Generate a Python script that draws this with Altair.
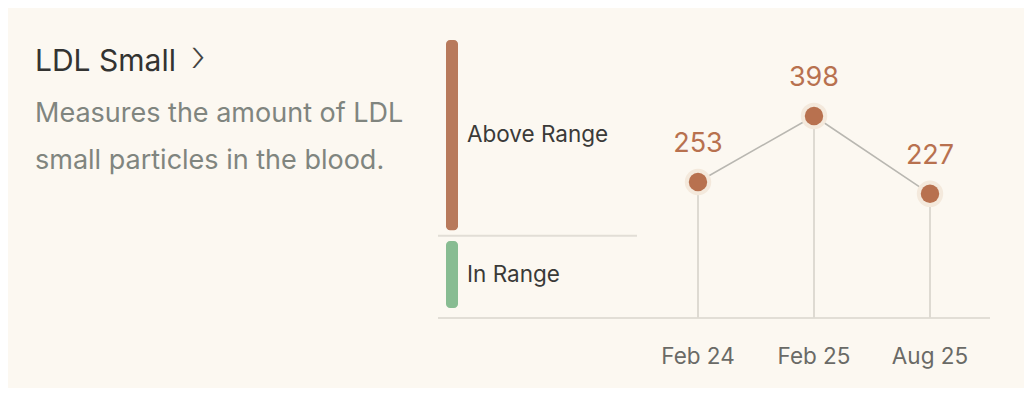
import altair as alt
import pandas as pd

# ---- data ----
dates = ["Feb 24", "Feb 25", "Aug 25"]
values = [253, 398, 227]

zones = ["Above Range", "In Range"]
zone_lo = [29, 0]
zone_hi = [100, 25]
zone_colors = ["#B87A5C", "#88BC92"]
zone_split = [27]

title_text = ["LDL Small"]
desc_lines = ["Measures the amount of LDL", "small particles in the blood."]

BG = "#FCF8F1"
BROWN = "#B8714F"
FONT = "Inter"

pts = pd.DataFrame({"date": dates, "value": values})
zdf = pd.DataFrame({"zone": zones, "lo": zone_lo, "hi": zone_hi, "color": zone_colors})
sdf = pd.DataFrame({"split": zone_split})

xs = alt.Scale(type="point", domain=dates, range=[690, 922], padding=0)
ys = alt.Scale(domain=[0, 450], range=[289.2, 84.3], zero=False, nice=False)
zs = alt.Scale(domain=[0, 100], range=[300, 32], zero=False, nice=False)

X = alt.X("date:N", scale=xs, axis=None)
Y = alt.Y("value:Q", scale=ys, axis=None)

base = alt.Chart(pts)

stems = base.mark_rule(color="#DEDAD2", strokeWidth=2).encode(
    x=X, y=Y, y2=alt.value(310)
)
baseline = alt.Chart(pts).mark_rule(color="#E2DED6", strokeWidth=2).encode(
    x=alt.value(430), x2=alt.value(982), y=alt.value(310)
)
line = base.mark_line(color="#B9B7B1", strokeWidth=1.6).encode(x=X, y=Y)
halo = base.mark_point(filled=True, shape="circle", size=700, color="#F4E9DC", opacity=1).encode(x=X, y=Y)
dots = base.mark_point(filled=True, shape="circle", size=340, color=BROWN, opacity=1).encode(x=X, y=Y)
vlabels = base.mark_text(font=FONT, fontSize=27, color=BROWN, dy=-38, baseline="middle").encode(
    x=X, y=Y, text="value:Q"
)
xlabels = base.mark_text(font=FONT, fontSize=22.5, color="#6A6A66", baseline="middle").encode(
    x=X, y=alt.value(349), text="date:N"
)

zbars = alt.Chart(zdf).mark_bar(cornerRadius=4).encode(
    x=alt.value(438), x2=alt.value(450),
    y=alt.Y("lo:Q", scale=zs, axis=None), y2="hi:Q",
    color=alt.Color("color:N", scale=None, legend=None),
)
ztext = alt.Chart(zdf).transform_calculate(mid="(datum.lo + datum.hi) / 2").mark_text(
    font=FONT, fontSize=22.5, color="#3A3A38", align="left", baseline="middle"
).encode(x=alt.value(459), y=alt.Y("mid:Q", scale=zs, axis=None), text="zone:N")
zsplit = alt.Chart(sdf).mark_rule(color="#E2DED6", strokeWidth=2).encode(
    x=alt.value(430), x2=alt.value(629), y=alt.Y("split:Q", scale=zs, axis=None)
)

title = alt.Chart(pd.DataFrame({"t": title_text})).mark_text(
    font=FONT, fontSize=30, color="#333331", align="left", baseline="alphabetic"
).encode(x=alt.value(27), y=alt.value(63), text="t:N")
chev = alt.Chart(pd.DataFrame({"t": ["›"]})).mark_text(
    font=FONT, fontSize=44, fontWeight=200, color="#444442", align="center", baseline="middle"
).encode(x=alt.value(190), y=alt.value(50), text="t:N")
desc = alt.Chart(pd.DataFrame({"t": [desc_lines]})).mark_text(
    font=FONT, fontSize=27, color="#80857F", align="left", baseline="alphabetic", lineHeight=47
).encode(x=alt.value(27), y=alt.value(114), text="t")

chart = alt.layer(
    baseline, zsplit, zbars, ztext, stems, line, halo, dots, vlabels, xlabels, title, chev, desc
).resolve_scale(y="independent").properties(
    width=1016, height=380, padding=0, autosize=alt.AutoSizeParams(type="none"), background=BG
).configure_view(stroke=None)

chart.save("out.html", embed_options={"renderer": "svg", "actions": False})
